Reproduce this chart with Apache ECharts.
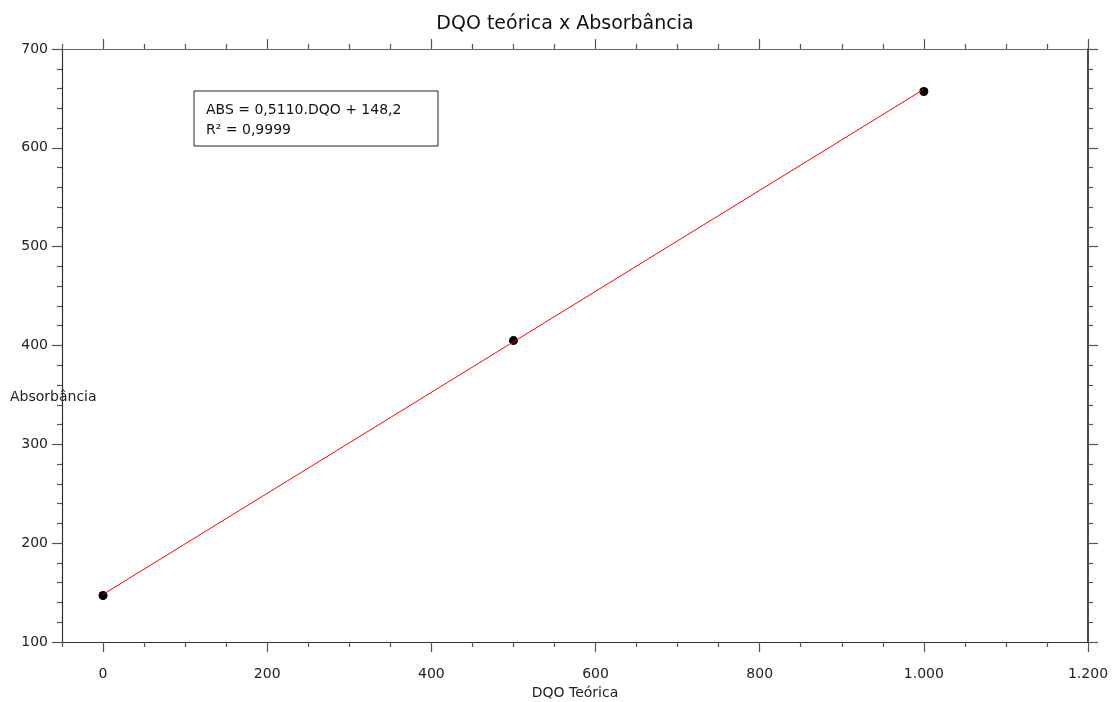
<!DOCTYPE html>
<html>
<head>
<meta charset="utf-8">
<script src="https://cdn.jsdelivr.net/npm/echarts@6/dist/echarts.min.js"></script>
<style>
  html, body { margin: 0; padding: 0; background: #fff; }
  #main { width: 1112px; height: 702px; }
</style>
</head>
<body>
<div id="main"></div>
<script>
// pontos medidos
var dqo = [0, 500, 1000]
var abs = [147, 405, 657]
// reta de ajuste (ABS = 0,5110.DQO + 148,2)
var fitX = [0, 1000]
var fitY = [148.2, 659.2]
// marcas do eixo x
var xMajor = [0, 200, 400, 600, 800, 1000, 1200]
var xMinor = [-50, 50, 100, 150, 250, 300, 350, 450, 500, 550, 650, 700, 750, 850, 900, 950, 1050, 1100, 1150]

var font = 'DejaVu Sans'
var chart = echarts.init(document.getElementById('main'))

function fmt(v) {
  return String(v).replace(/\B(?=(\d{3})+(?!\d))/g, '.')
}

var pointData = dqo.map(function (x, i) { return [x, abs[i]] })
var fitData = fitX.map(function (x, i) { return [x, fitY[i]] })

var gridPos = { left: 62, right: 24, top: 49, bottom: 60, containLabel: false, outerBoundsMode: 'none' }

var tickStyle = { color: '#555', width: 1.2 }

var option = {
  animation: false,
  backgroundColor: '#fff',
  title: {
    text: 'DQO teórica x Absorbância',
    left: 560,
    textAlign: 'center',
    top: 10,
    textStyle: { fontFamily: font, fontSize: 19, fontWeight: 'normal', color: '#111' }
  },
  grid: [
    Object.assign({}, gridPos),
    Object.assign({}, gridPos)
  ],
  xAxis: [
    {
      gridIndex: 0, type: 'value', position: 'bottom', min: -50, max: 1200,
      name: 'DQO Teórica', nameLocation: 'middle', nameGap: 44,
      nameTextStyle: { fontFamily: font, fontSize: 14, color: '#222' },
      axisLine: { show: true, onZero: false, lineStyle: { color: '#333', width: 1.2 } },
      axisTick: { show: true, length: 10, lineStyle: tickStyle, customValues: xMajor },
      axisLabel: { customValues: xMajor, margin: 25, fontFamily: font, fontSize: 14, color: '#222', formatter: fmt },
      splitLine: { show: false }
    },
    {
      gridIndex: 0, type: 'value', position: 'top', min: -50, max: 1200,
      axisLine: { show: true, onZero: false, lineStyle: { color: '#666', width: 1.2 } },
      axisTick: { show: true, length: 10, lineStyle: tickStyle, customValues: xMajor },
      axisLabel: { show: false },
      splitLine: { show: false }
    },
    {
      gridIndex: 1, type: 'value', position: 'bottom', min: -50, max: 1200,
      axisLine: { show: false, onZero: false },
      axisTick: { show: true, length: 5, lineStyle: tickStyle, customValues: xMinor },
      axisLabel: { show: false },
      splitLine: { show: false }
    },
    {
      gridIndex: 1, type: 'value', position: 'top', min: -50, max: 1200,
      axisLine: { show: false, onZero: false },
      axisTick: { show: true, length: 5, lineStyle: tickStyle, customValues: xMinor },
      axisLabel: { show: false },
      splitLine: { show: false }
    }
  ],
  yAxis: [
    {
      gridIndex: 0, type: 'value', position: 'left', min: 100, max: 700, interval: 100,
      axisLine: { show: true, onZero: false, lineStyle: { color: '#333', width: 1.2 } },
      axisTick: { show: true, length: 10, lineStyle: tickStyle },
      minorTick: { show: true, splitNumber: 5, length: 5, lineStyle: tickStyle },
      axisLabel: { margin: 14, fontFamily: font, fontSize: 14, color: '#222' },
      splitLine: { show: false }
    },
    {
      gridIndex: 0, type: 'value', position: 'right', min: 100, max: 700, interval: 100,
      axisLine: { show: true, onZero: false, lineStyle: { color: '#111', width: 1.5 } },
      axisTick: { show: true, length: 10, lineStyle: tickStyle },
      minorTick: { show: true, splitNumber: 5, length: 5, lineStyle: tickStyle },
      axisLabel: { show: false },
      splitLine: { show: false }
    },
    {
      gridIndex: 1, type: 'value', min: 100, max: 700, show: false
    }
  ],
  series: [
    {
      name: 'ajuste',
      type: 'line',
      xAxisIndex: 0,
      yAxisIndex: 0,
      data: fitData,
      showSymbol: false,
      symbol: 'none',
      lineStyle: { color: '#ff0000', width: 1 },
      z: 3
    },
    {
      name: 'pontos',
      type: 'scatter',
      xAxisIndex: 0,
      yAxisIndex: 0,
      data: pointData,
      symbol: 'circle',
      symbolSize: 9,
      itemStyle: { color: '#000', opacity: 1 },
      z: 2
    }
  ],
  graphic: [
    // caixa da equação
    {
      type: 'rect',
      shape: { x: 194, y: 91, width: 244, height: 55 },
      style: { fill: '#fff', stroke: '#222', lineWidth: 1 },
      z: 10
    },
    {
      type: 'text',
      x: 206, y: 110,
      style: { text: 'ABS = 0,5110.DQO + 148,2', font: '14px "DejaVu Sans"', fill: '#111', verticalAlign: 'middle' },
      z: 11
    },
    {
      type: 'text',
      x: 206, y: 130,
      style: { text: 'R² = 0,9999', font: '14px "DejaVu Sans"', fill: '#111', verticalAlign: 'middle' },
      z: 11
    },
    // nome do eixo y
    {
      type: 'text',
      x: 10, y: 397,
      style: { text: 'Absorbância', font: '14px "DejaVu Sans"', fill: '#222', verticalAlign: 'middle' },
      z: 11
    }
  ]
}

chart.setOption(option)
</script>
</body>
</html>
